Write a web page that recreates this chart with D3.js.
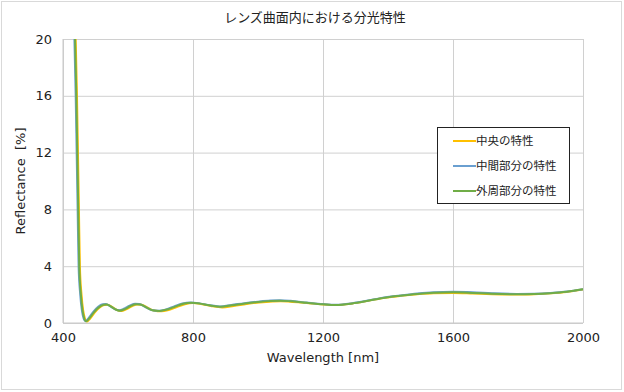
<!DOCTYPE html>
<html><head><meta charset="utf-8">
<script src="https://cdn.jsdelivr.net/npm/d3@7"></script>
<style>body{margin:0;background:#fff}svg{display:block}</style>
</head><body>
<script>
const chartTitle = "レンズ曲面内における分光特性";
const xTicks = [400, 800, 1200, 1600, 2000];
const yTicks = [0, 4, 8, 12, 16, 20];
const seriesNames = ["中央の特性", "中間部分の特性", "外周部分の特性"];
const seriesColors = ["#FFC000", "#6A9FD0", "#70AD47"];

// wavelength [nm], reflectance [%]
const centerSeries = [
 [432,26],[439,20],[443,16],[446,12],[449,8],[452,4],[457,2],[462,0.9],[467,0.35],[474,0.1],[483,0.3],[498,0.75],[513,1.1],[528,1.27],[538,1.28],[551,1.13],[565,0.93],[579,0.85],[594,0.96],[612,1.18],[629,1.3],[642,1.28],[659,1.1],[679,0.88],[703,0.82],[725,0.92],[750,1.12],[775,1.32],[800,1.4],[825,1.34],[855,1.2],[890,1.1],[925,1.2],[965,1.34],[1005,1.45],[1045,1.52],[1070,1.54],[1100,1.5],[1150,1.4],[1200,1.3],[1240,1.26],[1290,1.37],[1334,1.54],[1380,1.74],[1437,1.91],[1490,2.03],[1540,2.1],[1600,2.12],[1660,2.08],[1720,2.03],[1796,2.0],[1850,2.03],[1900,2.09],[1950,2.19],[2000,2.36]
];
const middleSeries = [
 [428,26],[435,20],[439,16],[442,12],[445,8],[448,4],[453,2],[458,0.9],[463,0.35],[469,0.13],[478,0.32],[493,0.78],[508,1.14],[522,1.32],[532,1.34],[545,1.18],[559,0.98],[572,0.9],[587,1.0],[605,1.22],[622,1.35],[635,1.33],[652,1.14],[672,0.92],[695,0.86],[717,0.96],[742,1.17],[767,1.37],[792,1.45],[817,1.4],[847,1.27],[882,1.17],[918,1.27],[958,1.4],[998,1.5],[1038,1.58],[1066,1.6],[1100,1.56],[1150,1.44],[1200,1.33],[1240,1.28],[1290,1.39],[1334,1.56],[1380,1.77],[1437,1.94],[1490,2.08],[1540,2.17],[1600,2.2],[1660,2.17],[1720,2.1],[1796,2.05],[1850,2.06],[1900,2.11],[1950,2.21],[2000,2.38]
];
const outerSeries = [
 [430,26],[437,20],[441,16],[444,12],[447,8],[450,4],[455,2],[460,0.9],[465,0.35],[471,0.12],[480,0.3],[495,0.75],[510,1.1],[525,1.28],[535,1.3],[548,1.15],[562,0.95],[575,0.87],[590,0.98],[608,1.2],[625,1.32],[638,1.3],[655,1.12],[675,0.9],[698,0.85],[720,0.95],[745,1.15],[770,1.35],[795,1.43],[820,1.38],[850,1.25],[885,1.15],[920,1.25],[960,1.38],[1000,1.48],[1040,1.55],[1068,1.57],[1100,1.53],[1150,1.42],[1200,1.32],[1240,1.27],[1290,1.38],[1334,1.55],[1380,1.75],[1437,1.92],[1490,2.05],[1540,2.13],[1600,2.16],[1660,2.12],[1720,2.06],[1796,2.02],[1850,2.04],[1900,2.1],[1950,2.2],[2000,2.37]
];
const allSeries = [centerSeries, middleSeries, outerSeries];

const W = 624, H = 392;
const m = {left: 63, right: 41, top: 39, bottom: 69};
const pw = W - m.left - m.right, ph = H - m.top - m.bottom;
const latin = "'DejaVu Sans', Verdana, sans-serif";
const cjk = "'Noto Sans CJK JP', 'DejaVu Sans', sans-serif";

const svg = d3.select("body").append("svg").attr("width", W).attr("height", H);
svg.append("rect").attr("x", 1.5).attr("y", 1.5).attr("width", W - 4).attr("height", H - 4)
  .attr("fill", "#fff").attr("stroke", "#d9d9d9");

const x = d3.scaleLinear().domain([400, 2000]).range([0, pw]);
const y = d3.scaleLinear().domain([0, 20]).range([ph, 0]);

const g = svg.append("g").attr("transform", `translate(${m.left},${m.top})`);

// gridlines
const gx = g.append("g").attr("transform", `translate(0,${ph})`)
  .call(d3.axisBottom(x).tickValues(xTicks).tickSize(-ph).tickFormat(d => d).tickPadding(10));
const gy = g.append("g")
  .call(d3.axisLeft(y).tickValues(yTicks).tickSize(-pw).tickFormat(d => d).tickPadding(11));
[gx, gy].forEach(a => {
  a.select(".domain").remove();
  a.selectAll("line").attr("stroke", "#d0d0d0").attr("stroke-width", 1);
  a.selectAll("text").attr("font-family", latin).attr("font-size", 13).attr("fill", "#222");
});
g.append("line").attr("x1", 0).attr("x2", 0).attr("y1", 0).attr("y2", ph).attr("stroke", "#c8c8c8");
g.append("line").attr("x1", 0).attr("x2", pw).attr("y1", ph).attr("y2", ph).attr("stroke", "#c8c8c8");

g.append("clipPath").attr("id", "clip").append("rect").attr("width", pw).attr("height", ph);
const line = d3.line().x(d => x(d[0])).y(d => y(d[1])).curve(d3.curveMonotoneX);
const lg = g.append("g").attr("clip-path", "url(#clip)");
allSeries.forEach((s, i) => {
  lg.append("path").datum(s).attr("d", line).attr("fill", "none")
    .attr("stroke", seriesColors[i]).attr("stroke-width", 2).attr("stroke-linejoin", "round");
});

// title
svg.append("text").attr("x", 315).attr("y", 22).attr("text-anchor", "middle")
  .attr("font-family", cjk).attr("font-size", 13).attr("fill", "#222").text(chartTitle);
// axis titles
svg.append("text").attr("x", m.left + pw / 2).attr("y", 362).attr("text-anchor", "middle")
  .attr("font-family", latin).attr("font-size", 13).attr("fill", "#222").text("Wavelength [nm]");
svg.append("text").attr("transform", `translate(25,${m.top + ph / 2}) rotate(-90)`).attr("text-anchor", "middle")
  .style("white-space", "pre")
  .attr("font-family", latin).attr("font-size", 13).attr("fill", "#222").text("Reflectance  [%]");

// legend
const leg = svg.append("g").attr("transform", "translate(437,127)");
leg.append("rect").attr("x", 0.5).attr("y", 0.5).attr("width", 132).attr("height", 76)
  .attr("fill", "#fff").attr("stroke", "#222").attr("stroke-width", 1);
seriesNames.forEach((n, i) => {
  const yy = 14 + i * 25;
  leg.append("line").attr("x1", 16).attr("x2", 39).attr("y1", yy).attr("y2", yy)
    .attr("stroke", seriesColors[i]).attr("stroke-width", 2);
  leg.append("text").attr("x", 39).attr("y", yy + 4).attr("font-family", cjk).attr("font-size", 11.5)
    .attr("fill", "#222").text(n);
});
</script>
</body></html>
